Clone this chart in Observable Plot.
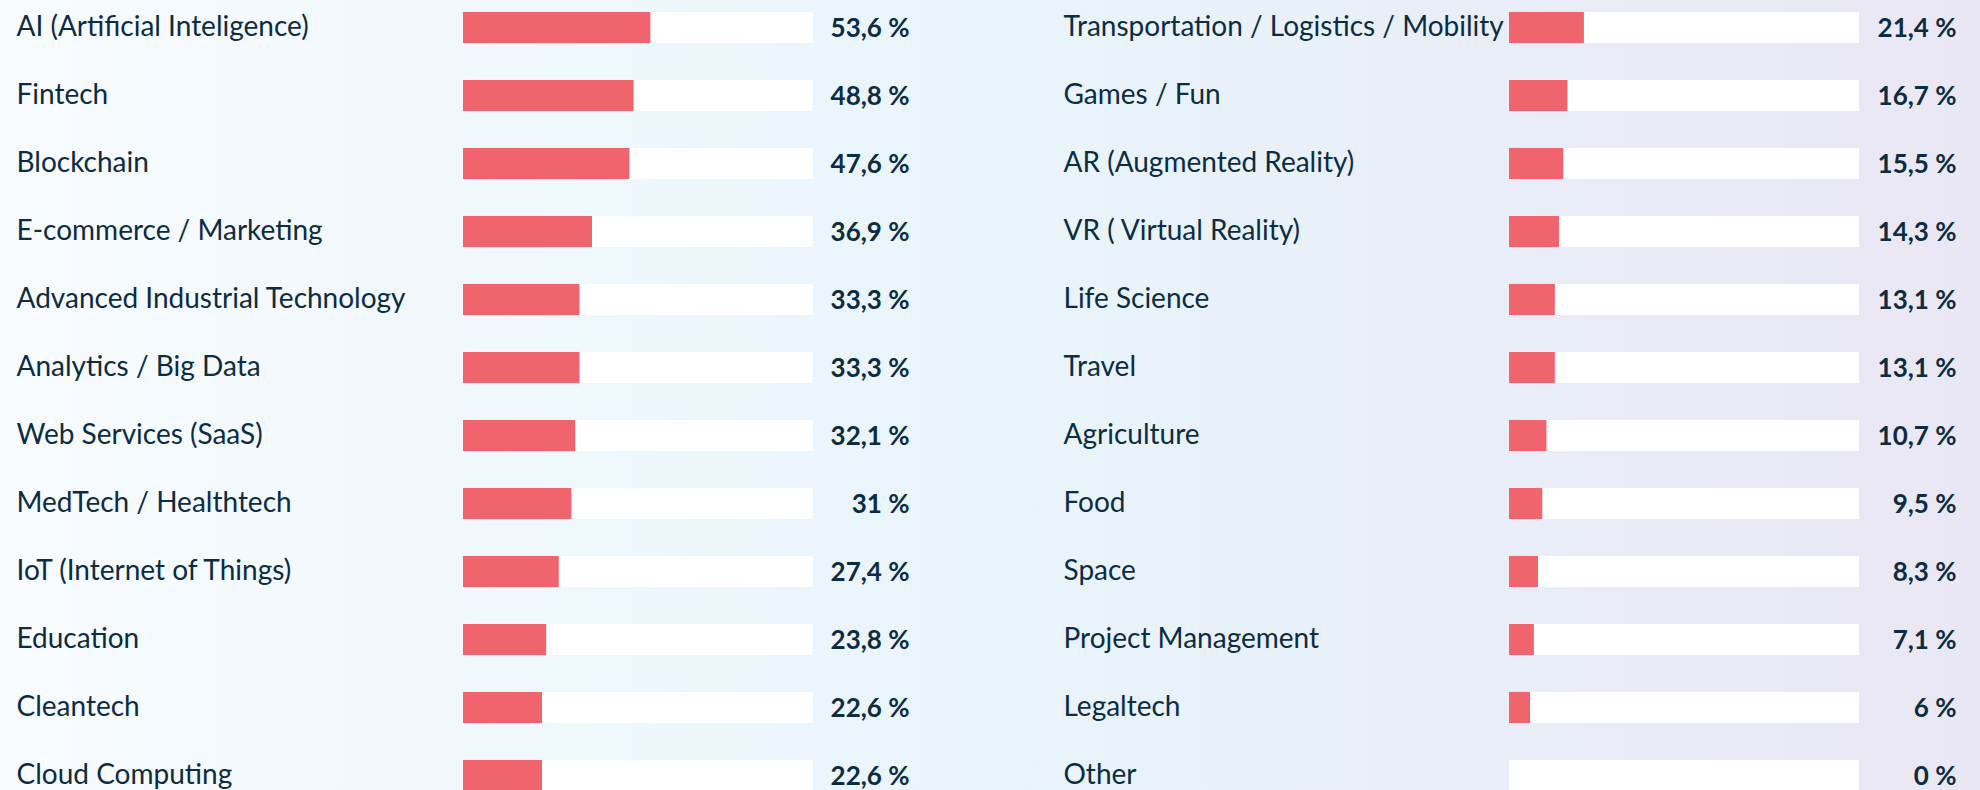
<!DOCTYPE html>
<html><head><meta charset="utf-8">
<script src="https://cdn.jsdelivr.net/npm/d3@7"></script>
<script src="https://cdn.jsdelivr.net/npm/@observablehq/plot@0.6"></script>
<style>
html,body{margin:0;padding:0;}
body{width:1980px;height:790px;overflow:hidden;background:linear-gradient(90deg,#f8fbfe 0%,#eef7fc 30%,#e8f4fb 52%,#e9eef8 75%,#e9e7f3 100%);}
#wrap{display:flex;width:1980px;height:790px;}
</style></head>
<body><div id="wrap"></div>
<script>
const leftNames = ["AI (Artificial Inteligence)","Fintech","Blockchain","E-commerce / Marketing","Advanced Industrial Technology","Analytics / Big Data","Web Services (SaaS)","MedTech / Healthtech","IoT (Internet of Things)","Education","Cleantech","Cloud Computing"];
const leftValues = [53.6,48.8,47.6,36.9,33.3,33.3,32.1,31,27.4,23.8,22.6,22.6];
const rightNames = ["Transportation / Logistics / Mobility","Games / Fun","AR (Augmented Reality)","VR ( Virtual Reality)","Life Science","Travel","Agriculture","Food","Space","Project Management","Legaltech","Other"];
const rightValues = [21.4,16.7,15.5,14.3,13.1,13.1,10.7,9.5,8.3,7.1,6,0];

const fmt = v => (Number.isInteger(v) ? String(v) : v.toFixed(1).replace(".", ",")) + " %";

function column(names, values, o) {
  const data = names.map((name, i) => ({name, value: values[i]}));
  return Plot.plot({
    width: 990, height: 790,
    marginLeft: o.barStart, marginRight: 990 - o.barEnd, marginTop: 0, marginBottom: 0,
    x: {domain: [0, 100], axis: null},
    y: {type: "band", domain: names, range: [-6.7, 809.3], paddingInner: 0.55, paddingOuter: 0.275, axis: null},
    style: {background: "transparent", overflow: "visible"},
    marks: [
      Plot.barX(data, {y: "name", x1: 0, x2: 100, fill: "#ffffff"}),
      Plot.barX(data, {y: "name", x: "value", fill: "#f0656d"}),
      Plot.text(data, {y: "name", text: "name", frameAnchor: "left", textAnchor: "start", dx: o.labelX - o.barStart, dy: -1,
        fill: "#0c2c42", fontSize: 28, fontFamily: "Lato"}),
      Plot.text(data, {y: "name", text: d => fmt(d.value), frameAnchor: "right", textAnchor: "end", dx: o.valueX - o.barEnd, dy: 1,
        fill: "#0c2c42", fontSize: 26, fontWeight: "bold", fontFamily: "Lato"})
    ]
  });
}
const wrap = document.getElementById("wrap");
wrap.append(column(leftNames, leftValues, {barStart: 463, barEnd: 812.6, labelX: 16, valueX: 909}));
wrap.append(column(rightNames, rightValues, {barStart: 519, barEnd: 869, labelX: 73, valueX: 966}));
</script>
</body></html>
